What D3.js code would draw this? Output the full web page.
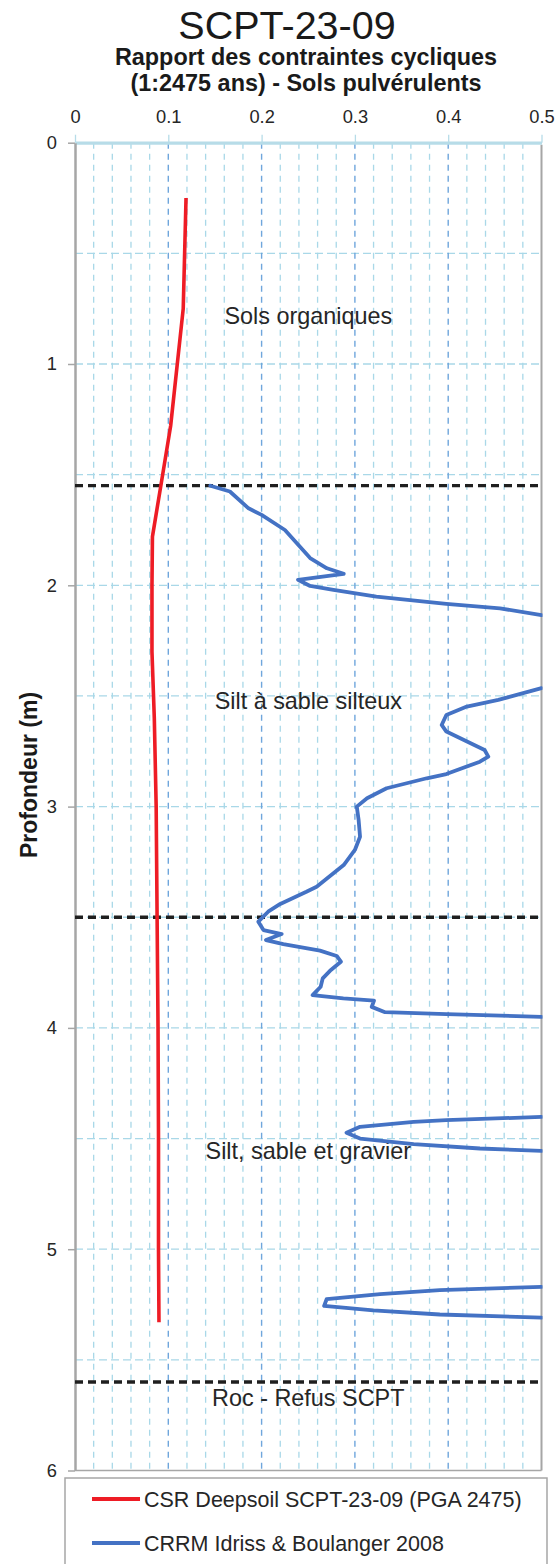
<!DOCTYPE html>
<html>
<head>
<meta charset="utf-8">
<script src="https://cdn.jsdelivr.net/npm/d3@7"></script>
<style>
  html, body { margin: 0; padding: 0; background: #fff; }
  svg { display: block; font-family: "Liberation Sans", Arial, sans-serif; }
</style>
</head>
<body>
<svg id="chart" width="555" height="1564"></svg>
<script>
// CSR profile (Deepsoil, PGA 2475) : depth (m) and ratio
const csrDepth = [0.25, 0.75, 1.28, 1.55, 1.78, 2.0, 2.3, 2.6, 3.0, 3.5, 4.0, 4.5, 5.0, 5.33];
const csrValue = [0.119, 0.116, 0.1025, 0.092, 0.083, 0.0825, 0.0825, 0.085, 0.087, 0.088, 0.089, 0.0895, 0.0895, 0.090];

// CRRM (Idriss & Boulanger 2008) : null marks where the profile leaves the axis range
const crrDepth = [
  1.55, 1.576, 1.652, 1.682, 1.75, 1.877, 1.923, 1.948, 1.975, 2.003, 2.021, 2.051, 2.084, 2.104, 2.135,
  null,
  2.465, 2.518, 2.548, 2.586, 2.631, 2.661, 2.744, 2.774, 2.797, 2.853, 2.872, 2.917, 2.962, 3.0, 3.061,
  3.136, 3.196, 3.264, 3.362, 3.385, 3.44, 3.475, 3.52, 3.558, 3.576, 3.603, 3.621, 3.651, 3.675, 3.701,
  3.742, 3.776, 3.814, 3.852, 3.867, 3.877, 3.905, 3.929, 3.938, 3.95,
  null,
  4.402, 4.417, 4.425, 4.447, 4.474, 4.5, 4.525, 4.545, 4.556,
  null,
  5.17, 5.185, 5.203, 5.226, 5.256, 5.276, 5.295, 5.309
];
const crrValue = [
  0.145, 0.166, 0.186, 0.200, 0.225, 0.252, 0.270, 0.288, 0.239, 0.252, 0.277, 0.323, 0.398, 0.4555, 0.5,
  null,
  0.5, 0.4537, 0.42, 0.398, 0.393, 0.398, 0.439, 0.443, 0.434, 0.398, 0.377, 0.334, 0.313, 0.302, 0.304,
  0.3055, 0.300, 0.288, 0.259, 0.248, 0.220, 0.207, 0.1965, 0.202, 0.2215, 0.2047, 0.2233, 0.2626, 0.2805, 0.285,
  0.2733, 0.2655, 0.2633, 0.2547, 0.2876, 0.3205, 0.318, 0.3323, 0.398, 0.5,
  null,
  0.5, 0.398, 0.363, 0.3055, 0.291, 0.3055, 0.363, 0.434, 0.5,
  null,
  0.5, 0.391, 0.327, 0.2697, 0.267, 0.3197, 0.391, 0.5
];

// Soil layer boundaries and layer names
const layerDepths = [1.55, 3.5, 5.6];
const layerNames = ["Sols organiques", "Silt à sable silteux", "Silt, sable et gravier", "Roc - Refus SCPT"];
const layerNameDepths = [0.78, 2.52, 4.555, 5.67];

// Axis ticks
const xTicks = [0, 0.1, 0.2, 0.3, 0.4, 0.5];
const yTicks = [0, 1, 2, 3, 4, 5, 6];

const legendLabels = ["CSR Deepsoil SCPT-23-09 (PGA 2475)", "CRRM Idriss & Boulanger 2008"];
const seriesColors = ["#ee1c25", "#4472c4"];

const svg = d3.select("#chart");
const plotLeft = 75, plotRight = 541.5, plotTop = 142.7, plotBottom = 1470.5;

const x = d3.scaleLinear().domain([0, 0.5]).range([plotLeft, plotRight]);
const y = d3.scaleLinear().domain([0, 6]).range([plotTop, plotBottom]);

// Titles
svg.append("text").attr("x", 287).attr("y", 38.5).attr("text-anchor", "middle")
  .attr("font-size", 39.5).attr("fill", "#1a1a1a").text("SCPT-23-09");
svg.append("text").attr("x", 306).attr("y", 65).attr("text-anchor", "middle")
  .attr("font-size", 23.4).attr("font-weight", "bold").attr("fill", "#1a1a1a")
  .text("Rapport des contraintes cycliques");
svg.append("text").attr("x", 306).attr("y", 90.5).attr("text-anchor", "middle")
  .attr("font-size", 23.4).attr("font-weight", "bold").attr("fill", "#1a1a1a")
  .text("(1:2475 ans) - Sols pulvérulents");

// Grid
const grid = svg.append("g");
grid.selectAll("line.hgrid").data(y.ticks(12).filter(d => d > 0 && d < 6)).join("line")
  .attr("x1", plotLeft).attr("x2", plotRight).attr("y1", d => y(d)).attr("y2", d => y(d))
  .attr("stroke", "#a9d8e8").attr("stroke-width", 1.3).attr("stroke-dasharray", "8,4");
const majorX = x.ticks(5).map(d => +d.toFixed(3));
grid.selectAll("line.vminor").data(x.ticks(25).filter(d => d > 0 && d < 0.5 && !majorX.includes(+d.toFixed(3)))).join("line")
  .attr("x1", d => x(d)).attr("x2", d => x(d)).attr("y1", plotTop).attr("y2", plotBottom)
  .attr("stroke", "#a9d8e8").attr("stroke-width", 1.3).attr("stroke-dasharray", "6,5");
grid.selectAll("line.vmajor").data(majorX.filter(d => d > 0 && d < 0.5)).join("line")
  .attr("x1", d => x(d)).attr("x2", d => x(d)).attr("y1", plotTop).attr("y2", plotBottom)
  .attr("stroke", "#6fa6dc").attr("stroke-width", 1.4).attr("stroke-dasharray", "6,5");

// Frame: right and bottom borders
svg.append("line").attr("x1", plotRight).attr("x2", plotRight).attr("y1", plotTop + 2).attr("y2", plotBottom)
  .attr("stroke", "#a6a6a6").attr("stroke-width", 2);
svg.append("line").attr("x1", plotLeft).attr("x2", plotRight).attr("y1", plotBottom).attr("y2", plotBottom)
  .attr("stroke", "#a6a6a6").attr("stroke-width", 1.5);

// Top axis (values)
const xAxis = svg.append("g").attr("transform", `translate(0,${plotTop})`)
  .call(d3.axisTop(x).tickValues(xTicks).tickFormat(d => String(d)).tickSize(8).tickSizeOuter(0));
xAxis.select(".domain").attr("stroke", "#b7dce8").attr("stroke-width", 3.2);
xAxis.selectAll(".tick line").attr("stroke", "#b7dce8").attr("stroke-width", 1.3);
xAxis.selectAll(".tick text").attr("font-size", 18.3).attr("fill", "#262626")
  .attr("font-family", "'Liberation Sans', Arial, sans-serif").attr("y", -19.5);

// Left axis (depth)
const yAxis = svg.append("g").attr("transform", `translate(${plotLeft},0)`)
  .call(d3.axisLeft(y).tickValues(yTicks).tickFormat(d3.format("d")).tickSize(7).tickSizeOuter(0));
yAxis.select(".domain").attr("stroke", "#a6a6a6").attr("stroke-width", 2.5);
yAxis.selectAll(".tick line").attr("stroke", "#a6a6a6").attr("stroke-width", 1.5);
yAxis.selectAll(".tick text").attr("font-size", 18.3).attr("fill", "#262626")
  .attr("font-family", "'Liberation Sans', Arial, sans-serif").attr("x", -18);

svg.append("text").attr("transform", "translate(37,775) rotate(-90)")
  .attr("text-anchor", "middle").attr("font-size", 23).attr("font-weight", "bold")
  .attr("fill", "#1a1a1a").text("Profondeur (m)");

// Layer boundaries
svg.selectAll("line.layer").data(layerDepths).join("line")
  .attr("x1", plotLeft).attr("x2", plotRight).attr("y1", d => y(d)).attr("y2", d => y(d))
  .attr("stroke", "#1f1f1f").attr("stroke-width", 3.3).attr("stroke-dasharray", "8,5");

// Layer names
svg.selectAll("text.layer").data(layerNames).join("text")
  .attr("x", x(0.25)).attr("y", (d, i) => y(layerNameDepths[i]))
  .attr("dy", "0.35em").attr("text-anchor", "middle")
  .attr("font-size", 23.4).attr("fill", "#262626").text(d => d);

// Curves
svg.append("clipPath").attr("id", "plotClip").append("rect")
  .attr("x", plotLeft).attr("y", plotTop).attr("width", plotRight - plotLeft + 1).attr("height", plotBottom - plotTop);

const lineGen = d3.line()
  .defined(d => d.depth != null && d.value != null)
  .x(d => x(d.value)).y(d => y(d.depth));

const csrData = csrDepth.map((d, i) => ({ depth: d, value: csrValue[i] }));
const crrData = crrDepth.map((d, i) => ({ depth: d, value: crrValue[i] }));

const curves = svg.append("g").attr("clip-path", "url(#plotClip)");
curves.append("path").datum(crrData).attr("d", lineGen)
  .attr("fill", "none").attr("stroke", seriesColors[1]).attr("stroke-width", 3.8)
  .attr("stroke-linejoin", "round").attr("stroke-linecap", "round");
curves.append("path").datum(csrData).attr("d", lineGen)
  .attr("fill", "none").attr("stroke", seriesColors[0]).attr("stroke-width", 3.6)
  .attr("stroke-linejoin", "round");

// Legend
const legend = svg.append("g");
legend.append("rect").attr("x", 65).attr("y", 1478).attr("width", 482).attr("height", 100)
  .attr("fill", "#fff").attr("stroke", "#a6a6a6").attr("stroke-width", 1.5);
const items = legend.selectAll("g.item").data(legendLabels).join("g")
  .attr("transform", (d, i) => `translate(0,${1499 + i * 44})`);
items.append("line").attr("x1", 92).attr("x2", 140).attr("y1", 0).attr("y2", 0)
  .attr("stroke", (d, i) => seriesColors[i]).attr("stroke-width", 3.8);
items.append("text").attr("x", 144).attr("y", 0).attr("dy", "0.35em")
  .attr("font-size", 21.5).attr("fill", "#262626").text(d => d);
</script>
</body>
</html>
